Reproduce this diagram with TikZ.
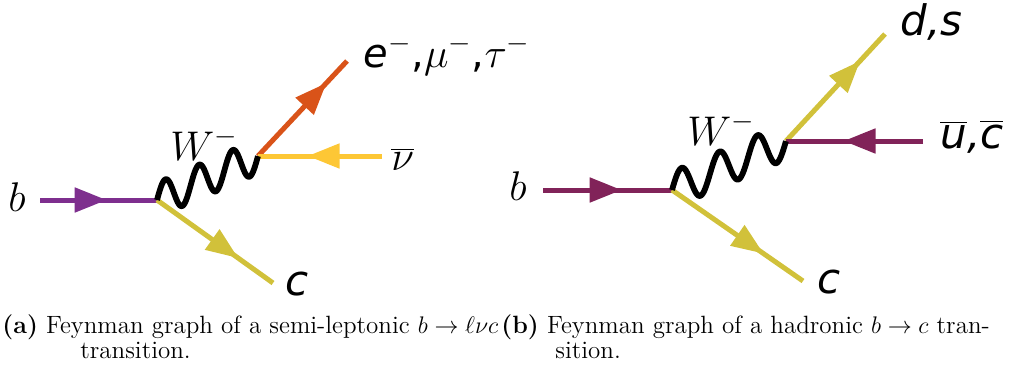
\documentclass[tikz,border=0pt]{standalone}
\usepackage{fontspec}
\usetikzlibrary{arrows.meta,decorations.markings}
\newfontfamily\djs{DejaVu Sans}
\definecolor{purpA}{HTML}{7E2F8E}
\definecolor{orngA}{HTML}{D95319}
\definecolor{yellA}{HTML}{FDC735}
\definecolor{oliveA}{HTML}{D1C13A}
\definecolor{maroonB}{HTML}{812359}
\begin{document}
\begin{tikzpicture}[x=0.5pt,y=-0.5pt,
  fermion/.style={line width=2.5pt,postaction={decorate},
    decoration={markings,mark=at position #1 with {\arrow{Triangle[length=16pt,width=12pt]}}}},
  wline/.style={line width=2.9pt,black,line join=round},
  lbl/.style={inner sep=0pt,anchor=base west,font=\fontsize{20}{24}\selectfont},
  slbl/.style={lbl,font=\fontsize{21}{25}\selectfont\djs\itshape},
  capt/.style={inner sep=0pt,anchor=base west,font=\fontsize{12.5}{15}\selectfont}]
\useasboundingbox (0,0) rectangle (1010,370);
% ---------- (a) ----------
\coordinate (bLa) at (40,200);
\coordinate (v1a) at (157,200);
\coordinate (v2a) at (258,156);
\coordinate (cLa) at (273,283);
\coordinate (eLa) at (347,61);
\coordinate (nLa) at (382,156);
\draw[fermion=0.57,purpA] (bLa) -- (v1a);
\draw[fermion=0.7,oliveA] (v1a) -- (cLa);
\draw[fermion=0.77,orngA] (v2a) -- (eLa);
\draw[fermion=0.6,yellA] (nLa) -- (v2a);
\begin{scope}[shift={(v1a)}]
\draw[wline] plot[domain=0:1,samples=160,smooth] ({101*\x},{-44*\x-17*sin(1080*\x)});
\end{scope}
\node[lbl] (lba) at (8,211) {$b$};
\node[lbl] (lwa) at (170,160) {$W^-$};
\node[lbl] (lea) at (363,67) {{\djs\itshape e}$^{-}${\djs ,}$\mu^{-}${\djs ,}$\tau^{-}$};
\node[lbl] (lna) at (391,170) {$\overline{\nu}$};
\node[slbl] (lca) at (285,295) {c};
% ---------- (b) ----------
\coordinate (bLb) at (543,190);
\coordinate (v1b) at (672,190);
\coordinate (v2b) at (786,141);
\coordinate (cLb) at (803,281);
\coordinate (dLb) at (885,34);
\coordinate (uLb) at (923,141);
\draw[fermion=0.61,maroonB] (bLb) -- (v1b);
\draw[fermion=0.7,oliveA] (v1b) -- (cLb);
\draw[fermion=0.75,oliveA] (v2b) -- (dLb);
\draw[fermion=0.58,maroonB] (uLb) -- (v2b);
\begin{scope}[shift={(v1b)}]
\draw[wline] plot[domain=0:1,samples=160,smooth] ({114*\x},{-49*\x-18*sin(1080*\x)});
\end{scope}
\node[lbl] (lbb) at (509,200) {$b$};
\node[lbl] (lwb) at (687,145) {$W^-$};
\node[slbl] (ldb) at (900,35) {d,s};
\node[slbl] (lub) at (940,148) {$\overline{\hbox{u}}$,$\overline{\hbox{c}}$};
\node[slbl] (lcb) at (817,293) {c};
% ---------- captions ----------
\node[capt] (capa1) at (2,333) {\textbf{(a)} Feynman graph of a semi-leptonic $b\to\ell\nu c$};
\node[capt] (capa2) at (80,358) {transition.};
\node[capt] (capb1) at (501,333) {\textbf{(b)} Feynman graph of a hadronic $b\to c$ tran-};
\node[capt] (capb2) at (555,358) {sition.};
\end{tikzpicture}
\end{document}
